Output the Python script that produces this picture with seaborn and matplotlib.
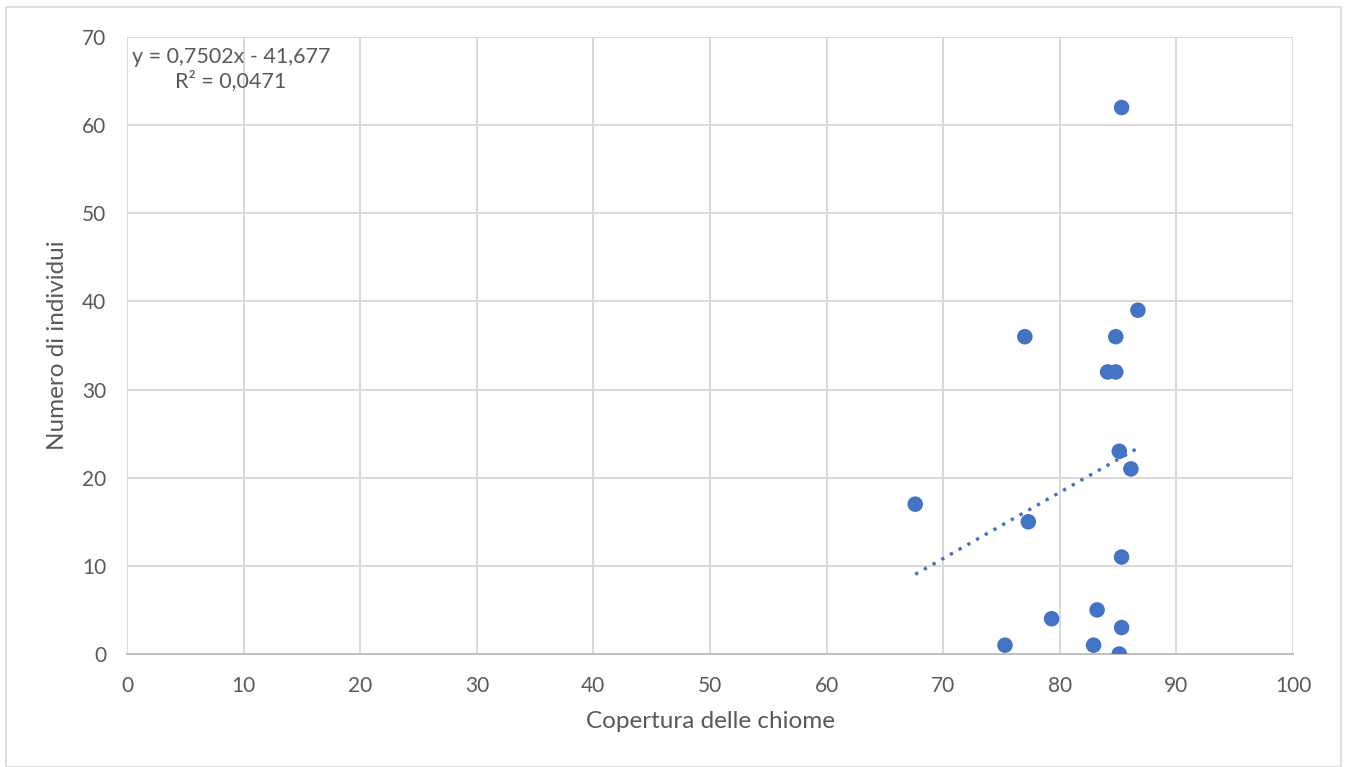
import matplotlib
matplotlib.use("Agg")
import matplotlib.pyplot as plt
import seaborn as sns
import numpy as np
import pandas as pd
from matplotlib.patches import Rectangle

# Canopy cover (%) and number of individuals per plot
copertura = [67.6, 77.0, 84.8, 84.1, 84.8, 85.1, 86.1, 77.3, 85.3,
             83.2, 79.3, 85.3, 75.3, 82.9, 85.1, 85.3, 86.7]
individui = [17, 36, 36, 32, 32, 23, 21, 15, 11,
             5, 4, 3, 1, 1, 0, 62, 39]

# Linear trend as reported on the chart
pendenza = 0.7502
intercetta = -41.677
r2 = 0.0471

x_ticks = [0, 10, 20, 30, 40, 50, 60, 70, 80, 90, 100]
y_ticks = [0, 10, 20, 30, 40, 50, 60, 70]

df = pd.DataFrame({"Copertura delle chiome": copertura,
                   "Numero di individui": individui})

sns.set_theme(style="white")
plt.rcParams["font.family"] = ["Lato", "DejaVu Sans"]

BLUE = "#4472C4"
GRID = "#D9D9D9"
TEXT = "#595959"

W, H = 1348, 767
fig = plt.figure(figsize=(W / 100, H / 100), dpi=100)
ax = fig.add_axes([127 / W, 1 - 654 / H, (1293 - 127) / W, (654 - 37) / H])

# chart border
fig.patches.append(Rectangle((6 / W, 0.5 / H), 1335 / W, 760 / H,
                             transform=fig.transFigure, fill=False,
                             edgecolor="#D9D9D9", linewidth=1.2))

ax.set_xlim(0, 100)
ax.set_ylim(0, 70)
ax.set_xticks(x_ticks)
ax.set_yticks(y_ticks)
ax.grid(True, color=GRID, linewidth=1.4)
ax.set_axisbelow(True)
for side in ["top", "right", "left"]:
    ax.spines[side].set_visible(False)
ax.spines["bottom"].set_color("#BFBFBF")
ax.spines["bottom"].set_linewidth(1.4)
ax.tick_params(axis="both", length=0, labelsize=15, colors=TEXT)
ax.tick_params(axis="x", pad=16)
ax.tick_params(axis="y", pad=15)

# trend line over the range of the data
xl = np.array([min(copertura), max(copertura)])
ax.plot(xl, pendenza * xl + intercetta, linestyle=(0, (1, 2)),
        color=BLUE, linewidth=2.4, zorder=2)

sns.scatterplot(data=df, x="Copertura delle chiome", y="Numero di individui",
                ax=ax, color=BLUE, s=125, edgecolor="none", zorder=3)

ax.set_xlabel("Copertura delle chiome", fontsize=17.5, color=TEXT)
ax.set_ylabel("Numero di individui", fontsize=17.5, color=TEXT)
ax.xaxis.set_label_coords(0.5, -(711 - 654) / 617)
ax.yaxis.set_label_coords(-(127 - 68) / 1166, 0.5)

eq = f"y = {pendenza:.4f}x - {abs(intercetta):.3f}".replace(".", ",")
rr = f"R² = {r2:.4f}".replace(".", ",")
ax.text(0.4, 68.9, eq + "\n" + rr, fontsize=15.5, color=TEXT,
        ha="left", va="top", multialignment="center", linespacing=1.2)

fig.savefig("out.png", dpi=100)
